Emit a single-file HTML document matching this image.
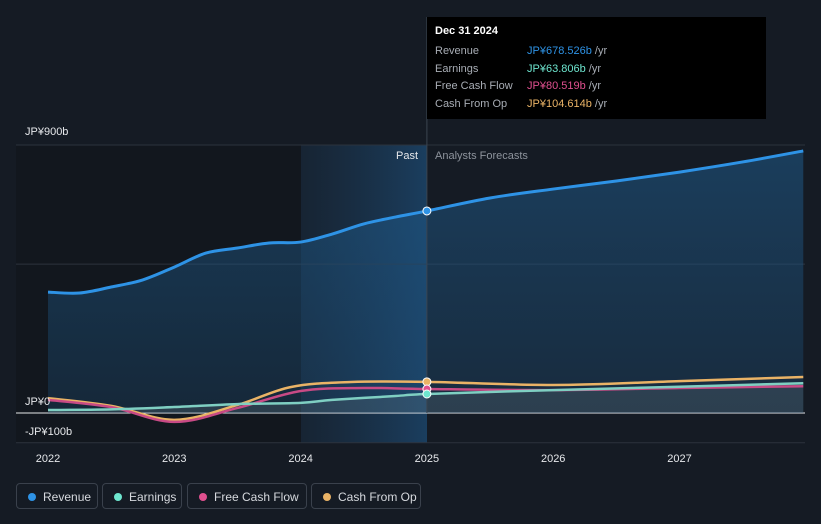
<!DOCTYPE html>
<html><head><meta charset="utf-8"><style>
body{margin:0;background:#151b24;font-family:"Liberation Sans",sans-serif;}
#wrap{position:relative;width:821px;height:524px;overflow:hidden;background:#151b24;}
.leg{position:absolute;top:483px;height:26px;border:1px solid #3a414c;border-radius:4px;color:#d6d9de;font-size:12px;line-height:26px;box-sizing:border-box;padding-left:26px;}
.leg i{position:absolute;left:11px;top:9px;width:8px;height:8px;border-radius:50%;}
</style></head><body>
<div id="wrap">
<svg id="svg" width="821" height="524" style="position:absolute;left:0;top:0">
<defs>
<linearGradient id="past" x1="0" x2="1" y1="0" y2="0"><stop offset="0" stop-color="#1b3a57" stop-opacity="0.3"/><stop offset="1" stop-color="#1d4d78" stop-opacity="0.7"/></linearGradient>
<linearGradient id="revfill" x1="0" x2="0" y1="0" y2="1"><stop offset="0" stop-color="#1f5a8a" stop-opacity="0.55"/><stop offset="1" stop-color="#1f5a8a" stop-opacity="0.25"/></linearGradient>
</defs>
<rect x="16" y="145" width="285" height="298" fill="#12171e"/>
<rect x="301" y="145" width="126" height="298" fill="url(#past)"/>
<g id="grid"></g>
<g id="marks"></g>
</svg>
<div style="position:absolute;left:427px;top:17px;width:339px;height:102px;background:#000;">
<div style="position:absolute;left:8px;top:8px;color:#fff;font-size:11px;font-weight:bold">Dec 31 2024</div>
<div style="position:absolute;left:8px;top:26px;font-size:11px;line-height:17.5px;color:#a8adb5">Revenue<br>Earnings<br>Free Cash Flow<br>Cash From Op</div>
<div style="position:absolute;left:100px;top:26px;font-size:11px;line-height:17.5px;color:#a8adb5"><span style="color:#2e93e6">JP¥678.526b</span> /yr<br><span style="color:#6ee6cf">JP¥63.806b</span> /yr<br><span style="color:#e0508f">JP¥80.519b</span> /yr<br><span style="color:#eab366">JP¥104.614b</span> /yr</div>
</div>
<div style="position:absolute;left:25px;top:126px;color:#e6e8eb;font-size:11px">JP¥900b</div>
<div style="position:absolute;left:25px;top:396px;color:#e6e8eb;font-size:11px">JP¥0</div>
<div style="position:absolute;left:25px;top:426px;color:#e6e8eb;font-size:11px">-JP¥100b</div>
<div style="position:absolute;left:396px;top:150px;color:#e6e8eb;font-size:11px">Past</div>
<div style="position:absolute;left:435px;top:150px;color:#8d939c;font-size:11px">Analysts Forecasts</div>
<div class="leg" style="left:16px;width:82px"><i style="background:#2e93e6"></i>Revenue</div>
<div class="leg" style="left:102px;width:80px"><i style="background:#6ee6cf"></i>Earnings</div>
<div class="leg" style="left:187px;width:120px"><i style="background:#e0508f"></i>Free Cash Flow</div>
<div class="leg" style="left:311px;width:110px"><i style="background:#eab366"></i>Cash From Op</div>
</div>
<script>
const years=[2022,2023,2024,2025,2026,2027];
const revX=[2022,2022.25,2022.5,2022.75,2023,2023.25,2023.5,2023.75,2024,2024.25,2024.5,2024.75,2025,2025.5,2026,2026.5,2027,2027.5,2027.98];
const revY=[406,403,423,447,490,537,554,571,574,601,635,658,678.5,722,752,779,809,843,880];
const earnX=[2022,2022.5,2023,2023.5,2024,2024.25,2024.75,2025,2026,2027,2027.98];
const earnY=[10,12,20,30,34,44,57,63.8,77,88,100];
const fcfX=[2022,2022.5,2023,2023.5,2024,2024.5,2025,2026,2027,2027.98];
const fcfY=[44,20,-30,17,74,84,80.5,77,84,90];
const cfoX=[2022,2022.5,2023,2023.5,2023.92,2024.4,2025,2026,2027,2027.98];
const cfoY=[50,24,-23,27,87,104,104.6,94,107,121];
const NS="http://www.w3.org/2000/svg";
const xs=y=>48+(y-2022)*126.3;
const ys=v=>413-v*0.2978;
function mk(t,a,p){const e=document.createElementNS(NS,t);for(const k in a)e.setAttribute(k,a[k]);p.appendChild(e);return e;}
const g=document.getElementById('grid'),m=document.getElementById('marks');
[900,500].forEach(v=>{const l=mk('line',{x1:16,x2:805,y1:ys(v),y2:ys(v),stroke:'#2c333d','stroke-width':1},g);

});
const zl=mk('line',{x1:16,x2:805,y1:ys(0),y2:ys(0),stroke:'#e6e8eb','stroke-width':1},g);


const bl=mk('line',{x1:16,x2:805,y1:ys(-100),y2:ys(-100),stroke:'#2c333d'},g);


years.forEach(y=>{const t=mk('text',{x:xs(y),y:462,fill:'#e6e8eb','font-size':11,'text-anchor':'middle'},g);t.textContent=y;

});
function path(X,Y){const P=X.map((x,i)=>[xs(x),ys(Y[i])]);let d='M'+P[0][0]+','+P[0][1];
for(let i=0;i<P.length-1;i++){const p0=P[Math.max(i-1,0)],p1=P[i],p2=P[i+1],p3=P[Math.min(i+2,P.length-1)];
const c1=[p1[0]+(p2[0]-p0[0])/6,p1[1]+(p2[1]-p0[1])/6],c2=[p2[0]-(p3[0]-p1[0])/6,p2[1]-(p3[1]-p1[1])/6];
d+='C'+c1+' '+c2+' '+p2;}return d;}
const rp=path(revX,revY);
const rf=mk('path',{d:rp+'L'+xs(revX[revX.length-1])+','+ys(0)+'L'+xs(revX[0])+','+ys(0)+'Z',fill:'url(#revfill)'},m);


const lo=mk('path',{d:path(earnX,earnY)+'L'+xs(2027.98)+','+ys(0)+'L'+xs(2022)+','+ys(0)+'Z',fill:'#6b7a85','fill-opacity':0.25},m);


[[cfoX,cfoY,'#eab366','cash-from-op-line'],[fcfX,fcfY,'#c84a85','free-cash-flow-line'],[earnX,earnY,'#7fcfc2','earnings-line'],[revX,revY,'#2e93e6','revenue-line']].forEach(s=>{
const p=mk('path',{d:path(s[0],s[1]),fill:'none',stroke:s[2],'stroke-width':s[3]=='revenue-line'?3:2.5},m);

});
const vl=mk('line',{x1:xs(2025),x2:xs(2025),y1:17,y2:ys(0),stroke:'#3a4450'},m);


[[revY[12],'#2e93e6'],[cfoY[6],'#eab366'],[fcfY[6],'#e0508f'],[earnY[7],'#6ee6cf']].forEach((d,i)=>{
const c=mk('circle',{cx:xs(2025),cy:ys(d[0]),r:4,fill:d[1],stroke:'#fff','stroke-width':1},m);

});
</script>
</body></html>
